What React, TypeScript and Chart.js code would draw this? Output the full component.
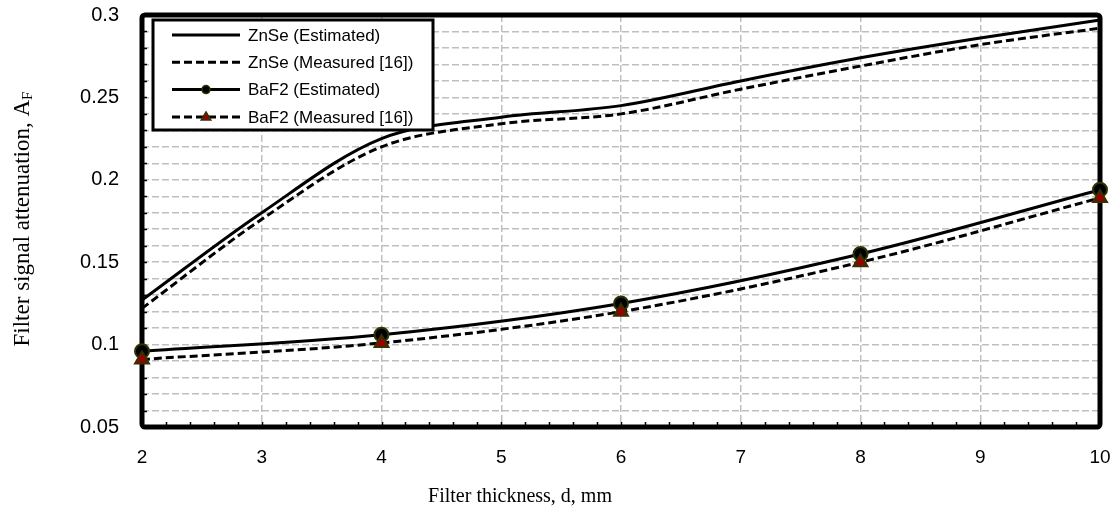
import React, { useEffect, useRef } from "react";
import { Chart, registerables } from "chart.js";

Chart.register(...registerables);

// ---------- data ----------
const znseThickness = [2, 3, 4, 5, 6, 7, 8, 9, 10];
const znseEstimated = [0.127, 0.18, 0.225, 0.238, 0.245, 0.26, 0.274, 0.286, 0.297];
const znseMeasured = [0.122, 0.176, 0.22, 0.234, 0.24, 0.255, 0.269, 0.282, 0.292];

const baf2Thickness = [2, 4, 6, 8, 10];
const baf2Estimated = [0.096, 0.106, 0.125, 0.155, 0.194];
const baf2Measured = [0.091, 0.101, 0.12, 0.15, 0.189];

const seriesLabels = [
  "ZnSe (Estimated)",
  "ZnSe (Measured [16])",
  "BaF2 (Estimated)",
  "BaF2 (Measured [16])",
];

const xTitle = "Filter thickness, d, mm";
const yTitleMain = "Filter signal attenuation, A";
const yTitleSub = "F";

const xMin = 2;
const xMax = 10;
const yMin = 0.05;
const yMax = 0.3;
const yLabelStep = 0.05;

const SANS = "'Liberation Sans', Arial, sans-serif";
const SERIF = "'Liberation Serif', 'Times New Roman', serif";

const toPoints = (xs: number[], ys: number[]) => xs.map((x, i) => ({ x, y: ys[i] }));

const framePlugin = {
  id: "frame",
  beforeDatasetsDraw(chart: any) {
    const { ctx, chartArea } = chart;
    const { left, right, top, bottom } = chartArea;
    const xs = chart.scales.x;
    const ys = chart.scales.y;
    ctx.save();
    // minor ticks
    ctx.strokeStyle = "#000";
    ctx.lineWidth = 1.5;
    ctx.beginPath();
    for (let v = yMin; v <= yMax + 1e-9; v += 0.01) {
      const py = Math.round(ys.getPixelForValue(v)) + 0.5;
      ctx.moveTo(left, py);
      ctx.lineTo(left + 5, py);
    }
    for (let v = xMin; v <= xMax + 1e-9; v += 0.2) {
      const px = Math.round(xs.getPixelForValue(v)) + 0.5;
      ctx.moveTo(px, bottom);
      ctx.lineTo(px, bottom - 5);
    }
    ctx.stroke();
    // thick border
    ctx.lineWidth = 5;
    ctx.lineJoin = "round";
    ctx.beginPath();
    (ctx as any).roundRect(left, top, right - left, bottom - top, 3);
    ctx.stroke();
    ctx.restore();
  },
  afterDraw(chart: any) {
    const { ctx } = chart;
    ctx.save();
    // legend
    const lx = 153, ly = 20, lw = 280, lh = 110;
    ctx.fillStyle = "#fff";
    ctx.fillRect(lx, ly, lw, lh);
    ctx.strokeStyle = "#000";
    ctx.lineWidth = 3;
    ctx.strokeRect(lx, ly, lw, lh);
    const order = [0, 1, 2, 3];
    order.forEach((di, i) => {
      const ds = chart.data.datasets[di];
      const y = 35 + i * 27.3;
      ctx.save();
      ctx.strokeStyle = ds.borderColor;
      ctx.lineWidth = ds.borderWidth;
      ctx.setLineDash(ds.borderDash || []);
      ctx.beginPath();
      ctx.moveTo(172, y);
      ctx.lineTo(240, y);
      ctx.stroke();
      ctx.setLineDash([]);
      if (ds.pointRadius > 0) {
        ctx.fillStyle = ds.pointBackgroundColor;
        ctx.strokeStyle = ds.pointBorderColor;
        ctx.lineWidth = 1.5;
        ctx.beginPath();
        if (ds.pointStyle === "triangle") {
          const r = 5;
          ctx.moveTo(206, y - r);
          ctx.lineTo(206 + r * 0.95, y + r * 0.6);
          ctx.lineTo(206 - r * 0.95, y + r * 0.6);
          ctx.closePath();
        } else {
          ctx.arc(206, y, 4, 0, Math.PI * 2);
        }
        ctx.fill();
        ctx.stroke();
      }
      ctx.restore();
      ctx.fillStyle = "#000";
      ctx.font = `17px ${SANS}`;
      ctx.textBaseline = "middle";
      ctx.textAlign = "left";
      ctx.fillText(ds.label, 248, y + 1);
    });
    // x title
    ctx.fillStyle = "#000";
    ctx.font = `20px ${SERIF}`;
    ctx.textAlign = "center";
    ctx.textBaseline = "middle";
    ctx.fillText(xTitle, 520, 497);
    // y title with subscript
    ctx.translate(22, 219);
    ctx.rotate(-Math.PI / 2);
    ctx.font = `23px ${SERIF}`;
    const w1 = ctx.measureText(yTitleMain).width;
    ctx.font = `15px ${SERIF}`;
    const w2 = ctx.measureText(yTitleSub).width;
    const start = -(w1 + w2) / 2;
    ctx.textAlign = "left";
    ctx.textBaseline = "alphabetic";
    ctx.font = `23px ${SERIF}`;
    ctx.fillText(yTitleMain, start, 7);
    ctx.font = `15px ${SERIF}`;
    ctx.fillText(yTitleSub, start + w1, 10);
    ctx.restore();
  },
};

export default function App() {
  const ref = useRef<HTMLCanvasElement>(null);

  useEffect(() => {
    if (!ref.current) return;
    const chart = new Chart(ref.current, {
      type: "line",
      data: {
        datasets: [
          {
            label: seriesLabels[0],
            data: toPoints(znseThickness, znseEstimated),
            borderColor: "#000",
            borderWidth: 3,
            pointRadius: 0,
            tension: 0.33,
            fill: false,
            clip: false,
            order: 3,
          },
          {
            label: seriesLabels[1],
            data: toPoints(znseThickness, znseMeasured),
            borderColor: "#000",
            borderWidth: 3,
            borderDash: [8, 4],
            pointRadius: 0,
            tension: 0.33,
            fill: false,
            clip: false,
            order: 2,
          },
          {
            label: seriesLabels[2],
            data: toPoints(baf2Thickness, baf2Estimated),
            borderColor: "#000",
            borderWidth: 3,
            pointStyle: "circle",
            pointRadius: 7,
            pointBackgroundColor: "#000",
            pointBorderColor: "#333300",
            pointBorderWidth: 2,
            tension: 0.33,
            fill: false,
            clip: false,
            order: 1,
          },
          {
            label: seriesLabels[3],
            data: toPoints(baf2Thickness, baf2Measured),
            borderColor: "#000",
            borderWidth: 3,
            borderDash: [8, 4],
            pointStyle: "triangle",
            pointRadius: 8,
            pointBackgroundColor: "#990000",
            pointBorderColor: "#333300",
            pointBorderWidth: 2,
            tension: 0.33,
            fill: false,
            clip: false,
            order: 0,
          },
        ] as any,
      },
      options: {
        animation: false,
        responsive: false,
        layout: { autoPadding: false, padding: { top: 15, right: 19, left: 0, bottom: 0 } },
        plugins: {
          legend: { display: false },
          tooltip: { enabled: false },
        },
        scales: {
          x: {
            type: "linear",
            min: xMin,
            max: xMax,
            afterFit: (s: any) => {
              s.height = 90;
              s.paddingLeft = 0;
              s.paddingRight = 0;
              s.paddingTop = 0;
              s.paddingBottom = 0;
            },
            ticks: {
              stepSize: 1,
              color: "#000",
              padding: 19,
              autoSkip: false,
              font: { family: SANS, size: 19 },
              maxRotation: 0,
            },
            grid: {
              color: "#bfbfbf",
              lineWidth: 1.5,
              drawTicks: false,
            },
            border: { display: false, dash: [7, 3] },
          },
          y: {
            type: "linear",
            min: yMin,
            max: yMax,
            afterFit: (s: any) => {
              s.width = 142;
              s.paddingLeft = 0;
              s.paddingRight = 0;
              s.paddingTop = 0;
              s.paddingBottom = 0;
            },
            ticks: {
              stepSize: 0.01,
              color: "#000",
              padding: 23,
              autoSkip: false,
              font: { family: SANS, size: 20 },
              callback: (v: any) => {
                const n = Number(v);
                const k = n / yLabelStep;
                if (Math.abs(k - Math.round(k)) < 1e-6) return String(Number(n.toFixed(2)));
                return "";
              },
            },
            grid: {
              color: "#bfbfbf",
              lineWidth: 1.5,
              drawTicks: false,
            },
            border: { display: false, dash: [7, 3] },
          },
        },
      },
      plugins: [framePlugin],
    });
    return () => chart.destroy();
  }, []);

  return (
    <div style={{ position: "absolute", left: 0, top: 0, width: 1119, height: 517, background: "#fff" }}>
      <canvas ref={ref} width={1119} height={517} />
    </div>
  );
}
